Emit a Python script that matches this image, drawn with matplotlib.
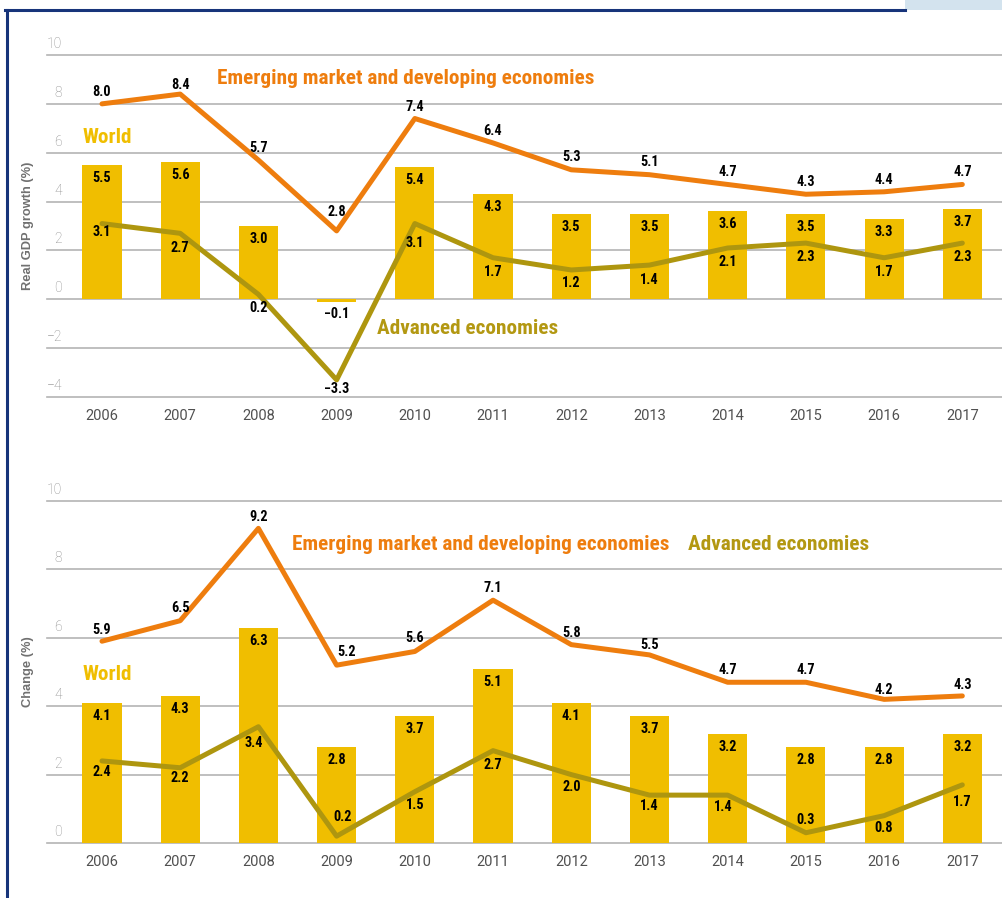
import matplotlib.pyplot as plt
from matplotlib.lines import Line2D
from matplotlib.patches import Rectangle
from matplotlib import transforms

years = ['2006', '2007', '2008', '2009', '2010', '2011',
         '2012', '2013', '2014', '2015', '2016', '2017']

# top panel: real GDP growth (%)
gdp_world = [5.5, 5.6, 3.0, -0.1, 5.4, 4.3, 3.5, 3.5, 3.6, 3.5, 3.3, 3.7]
gdp_emde = [8.0, 8.4, 5.7, 2.8, 7.4, 6.4, 5.3, 5.1, 4.7, 4.3, 4.4, 4.7]
gdp_adv = [3.1, 2.7, 0.2, -3.3, 3.1, 1.7, 1.2, 1.4, 2.1, 2.3, 1.7, 2.3]

# bottom panel: change (%)
chg_world = [4.1, 4.3, 6.3, 2.8, 3.7, 5.1, 4.1, 3.7, 3.2, 2.8, 2.8, 3.2]
chg_emde = [5.9, 6.5, 9.2, 5.2, 5.6, 7.1, 5.8, 5.5, 4.7, 4.7, 4.2, 4.3]
chg_adv = [2.4, 2.2, 3.4, 0.2, 1.5, 2.7, 2.0, 1.4, 1.4, 0.3, 0.8, 1.7]

# label offsets in pixels (layout only)
emde_top_dy = [12, 9, 12, 19, 12, 12, 13, 13, 12, 12, 12, 12]
adv_top_dy = [-8, -15, -14, -9, -19, -14, -13, -15, -14, -14, -14, -14]
emde_bot_dy = [11, 13, 11, 13, 13, 12, 12, 10, 12, 12, 9, 11]
emde_bot_dx = [0, 0, 0, 10, 0, 0, 0, 0, 0, 0, 0, 0]
adv_bot_dy = [-11, -10, -16, 19, -13, -14, -12, -11, -12, 13, -12, -17]
adv_bot_dx = [0, 0, -5, 6, 0, 0, 0, 0, -4, 0, 0, 0]

ORANGE = '#EE7D0E'
YELLOW = '#F0BE00'
OLIVE = '#AE960F'
OLIVE_TXT = '#B39812'
GRID = '#b4b4b4'

cond = ['Roboto Condensed', 'DejaVu Sans Condensed', 'Liberation Sans Narrow',
        'Open Sans Condensed', 'Roboto']
light = ['Roboto', 'DejaVu Sans']

fig = plt.figure(figsize=(10.03, 8.98), dpi=100)
W, H = 1003.0, 898.0


def panel(rect, world, emde, adv, ylo, yticks, emde_dy, emde_dx, adv_dy, adv_dx, ylabel):
    ax = fig.add_axes(rect)
    x = list(range(len(years)))
    ax.set_xlim(-0.703, 11.52)
    ax.set_ylim(ylo, 10)
    for s in ax.spines.values():
        s.set_visible(False)
    for t in yticks:
        ax.axhline(t, color=GRID, lw=1.2, zorder=0, clip_on=False)
    ax.bar(x, world, width=0.5, color=YELLOW, zorder=2)
    ax.plot(x, emde, color=ORANGE, lw=3.6, zorder=3, solid_joinstyle='round',
            solid_capstyle='round')
    ax.plot(x, adv, color=OLIVE, lw=3.6, zorder=3, solid_joinstyle='round',
            solid_capstyle='round')

    lab = dict(textcoords='offset pixels', ha='center', va='center',
               fontsize=10.3, fontweight='bold', family=cond, zorder=5)
    for i, v in enumerate(world):
        dy = -13 if v >= 0 else -12
        ax.annotate(f'{v:.1f}'.replace('-', '\u2212'), (i, v), xytext=(0, dy), **lab)
    for i, v in enumerate(emde):
        ax.annotate(f'{v:.1f}', (i, v), xytext=(emde_dx[i], emde_dy[i]), **lab)
    for i, v in enumerate(adv):
        ax.annotate(f'{v:.1f}'.replace('-', '\u2212'), (i, v),
                    xytext=(adv_dx[i], adv_dy[i]), **lab)

    # y tick labels sit above the gridlines
    tr = transforms.offset_copy(ax.get_yaxis_transform(), fig=fig, x=0, y=4, units='dots')
    for t in yticks:
        ax.text(15 / 956, t, str(t).replace('-', '\u2212'), transform=tr,
                ha='right', va='bottom', fontsize=10, color='#8a8a8a',
                family=light, fontweight='light')
    ax.set_yticks([])
    ax.set_xticks(x)
    ax.set_xticklabels(years, fontsize=10.5, color='#505050', family=light)
    ax.tick_params(axis='x', length=0, pad=9)

    ax.text(-19 / 956, 0.5, ylabel, transform=ax.transAxes,
            rotation=90, ha='center', va='center', fontsize=9.3,
            fontweight='bold', color='#707070', family=['Liberation Sans', 'DejaVu Sans'])
    return ax


ax1 = panel([47 / W, 1 - 397 / H, 956 / W, 342 / H], gdp_world, gdp_emde, gdp_adv,
            -4, [-4, -2, 0, 2, 4, 6, 8, 10], emde_top_dy, [0] * 12, adv_top_dy, [0] * 12,
            'Real GDP growth (%)')
ax2 = panel([47 / W, 1 - 843 / H, 956 / W, 342 / H], chg_world, chg_emde, chg_adv,
            0, [0, 2, 4, 6, 8, 10], emde_bot_dy, emde_bot_dx, adv_bot_dy, adv_bot_dx,
            'Change (%)')

# series names
big = dict(fontsize=15.3, fontweight='bold', family=cond, va='center', ha='left')
fig.text(217 / W, 1 - 78 / H, 'Emerging market and developing economies', color=ORANGE, **big)
fig.text(83 / W, 1 - 138 / H, 'World', color=YELLOW, **big)
fig.text(377 / W, 1 - 328 / H, 'Advanced economies', color=OLIVE_TXT, **big)
fig.text(292 / W, 1 - 544 / H, 'Emerging market and developing economies', color=ORANGE, **big)
fig.text(688 / W, 1 - 544 / H, 'Advanced economies', color=OLIVE_TXT, **big)
fig.text(83 / W, 1 - 674 / H, 'World', color=YELLOW, **big)

# frame
fig.add_artist(Rectangle((905 / W, 1 - 10 / H), 98 / W, 10 / H, transform=fig.transFigure,
                         color='#d3e3ee', lw=0))
fig.add_artist(Line2D([5 / W, 905 / W], [1 - 10 / H, 1 - 10 / H], transform=fig.transFigure,
                      color='#17347a', lw=2.2))
fig.add_artist(Line2D([7 / W, 7 / W], [1 - 10 / H, 0], transform=fig.transFigure,
                      color='#17347a', lw=2.2))

fig.savefig('out.png', dpi=100)
